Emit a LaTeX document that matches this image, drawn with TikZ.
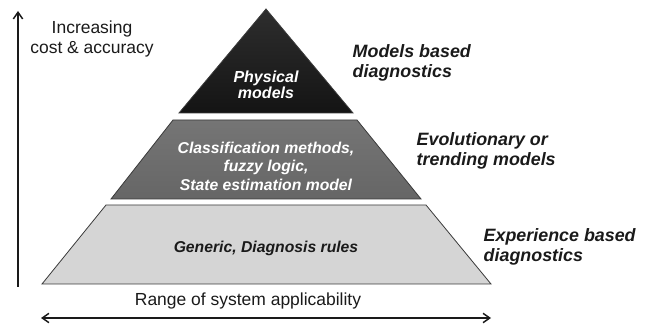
\documentclass[tikz,border=0pt]{standalone}
\usepackage{fontspec}
\setmainfont{Liberation Sans}
\usetikzlibrary{calc, shapes, arrows.meta}
\usepackage{xcolor}
\definecolor{tipgray}{HTML}{2E2E2E}
\definecolor{tipdark}{HTML}{141414}
\definecolor{midgray}{HTML}{757575}
\definecolor{middark}{HTML}{666666}
\definecolor{lowgray}{HTML}{D5D5D5}
\definecolor{edgegray}{HTML}{3A3A3A}
\definecolor{textdark}{HTML}{1A1A1A}

\begin{document}
\begin{tikzpicture}[x=0.75pt,y=-0.75pt,
	layer/.style={draw=edgegray, line width=0.6pt, line join=miter},
	axis/.style={line width=1.1pt, textdark}]
				\newcommand{\myfontside}{%
					\fontsize{13.4}{15}\selectfont\bfseries\itshape
				}\newcommand{\myfontinner}{%
					\fontsize{11.8}{13.9}\selectfont\bfseries\itshape
				}\newcommand{\myfonttip}{%
					\fontsize{12}{11.6}\selectfont\bfseries\itshape
				}\newcommand{\myfontaxis}{%
					\fontsize{13.1}{15}\selectfont
				}%Page frame
				\useasboundingbox (0,0) rectangle (649,327);
				%Tip of the pyramid
				\coordinate (tip) at (266,9);
				\coordinate (tl) at (179,113);
				\coordinate (tr) at (353,113);
				\shade[layer, top color=tipgray, bottom color=tipdark] (tip) -- (tr) -- (tl) -- cycle;
				%Middle band
				\coordinate (ml0) at (173,120);
				\coordinate (mr0) at (357,120);
				\coordinate (ml1) at (111,199);
				\coordinate (mr1) at (421,199);
				\shade[layer, top color=midgray, bottom color=middark] (ml0) -- (mr0) -- (mr1) -- (ml1) -- cycle;
				%Lower band
				\coordinate (ll0) at (106,205);
				\coordinate (lr0) at (426,205);
				\coordinate (ll1) at (42,284);
				\coordinate (lr1) at (491,284);
				\fill[lowgray] (ll0) -- (lr0) -- (lr1) -- (ll1) -- cycle;
				\draw[layer] (ll0) -- (lr0) -- (lr1) -- (ll1) -- cycle;
				%Texts inside the bands
				\node [text=white, align=center, font=\myfonttip] (phys) at (266,85) {Physical\\models};
				\node [text=white, align=center, font=\myfontinner] (classif) at (266,166) {Classification methods,\\fuzzy logic,\\State estimation model};
				\node [text=textdark, font=\myfontinner] (generic) at (266,248) {Generic, Diagnosis rules};
				%Labels on the right
				\node [text=textdark, align=left, anchor=west, font=\myfontside] (modelsbased) at (348,63) {Models based\\diagnostics};
				\node [text=textdark, align=left, anchor=west, font=\myfontside] (evolution) at (412,151) {Evolutionary or\\trending models};
				\node [text=textdark, align=left, anchor=west, font=\myfontside] (experience) at (479,247) {Experience based\\diagnostics};
				%Axes
				\coordinate (vbot) at (18,287);
				\coordinate (vtop) at (18,11);
				\draw[axis, -{Straight Barb[length=5pt,width=7pt]}] (vbot) -- (vtop);
				\node [text=textdark, align=center, font=\myfontaxis] (cost) at (92,39) {Increasing\\cost \& accuracy};
				\coordinate (hleft) at (41,318);
				\coordinate (hright) at (491,318);
				\draw[axis, {Straight Barb[length=5pt,width=7pt]}-{Straight Barb[length=5pt,width=7pt]}] (hleft) -- (hright);
				\node [text=textdark, font=\myfontaxis] (range) at (248,301) {Range of system applicability};
				\end{tikzpicture}
\end{document}
